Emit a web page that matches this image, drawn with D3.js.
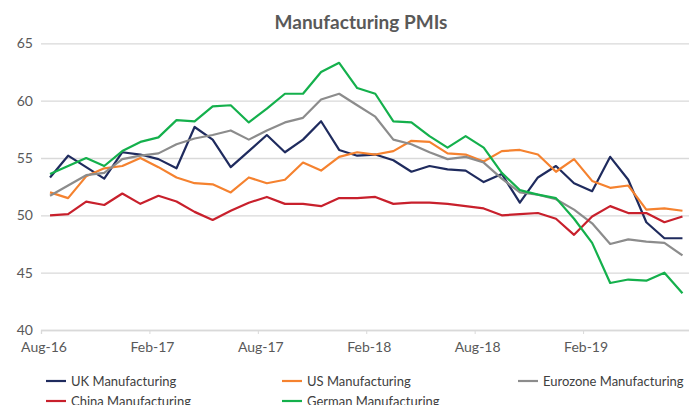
<!DOCTYPE html>
<html lang="en">
<head>
    <meta charset="UTF-8">
    <title>Manufacturing PMIs</title>
    <script src="https://d3js.org/d3.v7.min.js"></script>
    <style>
        body {
            margin: 0;
            padding: 0;
            background: #fff;
        }
        svg {
            font-family: Lato, "Open Sans", sans-serif;
            display: block;
        }
    </style>
</head>
<body>
    <svg width="689" height="405"></svg>

    <script>
        // Months Aug-16 .. Jul-19
        const months = ["Aug-16","Sep-16","Oct-16","Nov-16","Dec-16","Jan-17","Feb-17","Mar-17","Apr-17","May-17","Jun-17","Jul-17",
            "Aug-17","Sep-17","Oct-17","Nov-17","Dec-17","Jan-18","Feb-18","Mar-18","Apr-18","May-18","Jun-18","Jul-18",
            "Aug-18","Sep-18","Oct-18","Nov-18","Dec-18","Jan-19","Feb-19","Mar-19","Apr-19","May-19","Jun-19","Jul-19"];

        const ukValues = [53.3,55.2,54.2,53.2,55.5,55.3,54.9,54.1,57.7,56.6,54.2,55.6,57.0,55.5,56.6,58.2,55.7,55.2,
            55.3,54.8,53.8,54.3,54.0,53.9,52.9,53.6,51.1,53.3,54.3,52.8,52.1,55.1,53.1,49.4,48.0,48.0];
        const usValues = [52.0,51.5,53.4,54.1,54.3,55.0,54.2,53.3,52.8,52.7,52.0,53.3,52.8,53.1,54.6,53.9,55.1,55.5,
            55.3,55.6,56.5,56.4,55.4,55.3,54.7,55.6,55.7,55.3,53.8,54.9,53.0,52.4,52.6,50.5,50.6,50.4];
        const euroValues = [51.7,52.6,53.5,53.7,54.9,55.2,55.4,56.2,56.7,57.0,57.4,56.6,57.4,58.1,58.5,60.1,60.6,59.6,
            58.6,56.6,56.2,55.5,54.9,55.1,54.6,53.2,52.0,51.8,51.4,50.5,49.3,47.5,47.9,47.7,47.6,46.5];
        const chinaValues = [50.0,50.1,51.2,50.9,51.9,51.0,51.7,51.2,50.3,49.6,50.4,51.1,51.6,51.0,51.0,50.8,51.5,51.5,
            51.6,51.0,51.1,51.1,51.0,50.8,50.6,50.0,50.1,50.2,49.7,48.3,49.9,50.8,50.2,50.2,49.4,49.9];
        const germanValues = [53.6,54.3,55.0,54.3,55.6,56.4,56.8,58.3,58.2,59.5,59.6,58.1,59.3,60.6,60.6,62.5,63.3,61.1,
            60.6,58.2,58.1,56.9,55.9,56.9,55.9,53.7,52.2,51.8,51.5,49.7,47.6,44.1,44.4,44.3,45.0,43.2];

        const yTicks = [40, 45, 50, 55, 60, 65];
        const xTickIdx = [0, 6, 12, 18, 24, 30];

        const series = [
            { name: "UK Manufacturing", values: ukValues, color: "#1f2b5e" },
            { name: "US Manufacturing", values: usValues, color: "#f5822f" },
            { name: "Eurozone Manufacturing", values: euroValues, color: "#8c8c8c" },
            { name: "China Manufacturing", values: chinaValues, color: "#c8202c" },
            { name: "German Manufacturing", values: germanValues, color: "#14b04c" }
        ];

        const svg = d3.select("svg");
        const plotLeft = 41, plotRight = 691.5, plotTop = 43.3, plotBottom = 330;

        // category axis, points sit between tick marks
        const x = d3.scaleLinear().domain([0, months.length]).range([plotLeft, plotRight]);
        const y = d3.scaleLinear().domain([40, 65]).range([plotBottom, plotTop]);

        // title
        svg.append("text")
            .attr("x", 361)
            .attr("y", 29)
            .attr("text-anchor", "middle")
            .attr("font-size", 19)
            .attr("font-weight", 700)
            .attr("fill", "#595959")
            .text("Manufacturing PMIs");

        // gridlines + y labels
        const yAxis = svg.append("g")
            .attr("transform", `translate(${plotLeft},0)`)
            .call(d3.axisLeft(y).tickValues(yTicks).tickSize(-(689 - plotLeft)).tickPadding(8));
        yAxis.select(".domain").remove();
        yAxis.selectAll(".tick line").attr("stroke", "#d9d9d9").attr("stroke-width", 1.3);
        yAxis.selectAll(".tick text")
            .attr("fill", "#595959")
            .attr("font-size", 14)
            .attr("font-family", "Lato, sans-serif");

        // x axis
        const xAxis = svg.append("g")
            .attr("transform", `translate(0,${plotBottom})`)
            .call(d3.axisBottom(x).tickValues(xTickIdx).tickFormat(i => months[i]).tickSize(4).tickPadding(8));
        xAxis.select(".domain").attr("stroke", "#d9d9d9").attr("stroke-width", 1.3);
        xAxis.selectAll(".tick line").attr("stroke", "#d9d9d9");
        xAxis.selectAll(".tick text")
            .attr("dx", 2.5)
            .attr("fill", "#595959")
            .attr("font-size", 14)
            .attr("font-family", "Lato, sans-serif");

        // lines
        const line = d3.line()
            .x((d, i) => x(i + 0.5))
            .y(d => y(d));

        svg.selectAll(".series")
            .data(series)
            .join("path")
            .attr("class", "series")
            .attr("fill", "none")
            .attr("stroke", d => d.color)
            .attr("stroke-width", 2.2)
            .attr("stroke-linejoin", "round")
            .attr("d", d => line(d.values));

        // legend
        const legendPos = [[46, 381], [282, 381], [518, 381], [46, 401], [282, 401]];
        const legend = svg.selectAll(".legend")
            .data(series)
            .join("g")
            .attr("class", "legend")
            .attr("transform", (d, i) => `translate(${legendPos[i][0]},${legendPos[i][1]})`);

        legend.append("line")
            .attr("x1", 0).attr("x2", 20)
            .attr("stroke", d => d.color)
            .attr("stroke-width", 2.2);

        legend.append("text")
            .attr("x", 25)
            .attr("dy", "0.35em")
            .attr("font-size", 13)
            .attr("fill", "#404040")
            .text(d => d.name);
    </script>
</body>
</html>
